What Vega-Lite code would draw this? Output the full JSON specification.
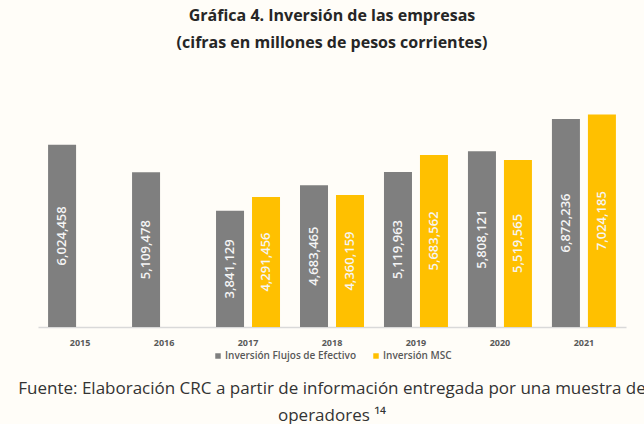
{
  "$schema": "https://vega.github.io/schema/vega-lite/v6.json",
  "background": "#fffdf8",
  "padding": {"left": 18, "top": 8, "right": 0, "bottom": 0},
  "title": {
    "text": ["Fuente: Elaboración CRC a partir de información entregada por una muestra de", "operadores ¹⁴"],
    "orient": "bottom",
    "font": "Open Sans",
    "fontSize": 17,
    "fontWeight": "normal",
    "color": "#333333",
    "lineHeight": 27,
    "anchor": "middle",
    "offset": 20
  },
  "config": {
    "view": {"stroke": null},
    "font": "Open Sans",
    "legend": {"layout": {"bottom": {"anchor": "middle"}}}
  },
  "resolve": {"legend": {"color": "independent"}},
  "vconcat": [
    {
      "width": 588,
      "height": 227,
      "title": {
        "text": ["Gráfica 4. Inversión de las empresas", "(cifras en millones de pesos corrientes)"],
        "font": "Open Sans",
        "fontSize": 16,
        "fontWeight": "bold",
        "color": "#262626",
        "lineHeight": 27,
        "anchor": "middle",
        "offset": 49
      },
      "data": {
        "values": [
          {"anio": "2015", "serie": "Inversión Flujos de Efectivo", "valor": 6024458},
          {"anio": "2016", "serie": "Inversión Flujos de Efectivo", "valor": 5109478},
          {"anio": "2017", "serie": "Inversión Flujos de Efectivo", "valor": 3841129},
          {"anio": "2017", "serie": "Inversión MSC", "valor": 4291456},
          {"anio": "2018", "serie": "Inversión Flujos de Efectivo", "valor": 4683465},
          {"anio": "2018", "serie": "Inversión MSC", "valor": 4360159},
          {"anio": "2019", "serie": "Inversión Flujos de Efectivo", "valor": 5119963},
          {"anio": "2019", "serie": "Inversión MSC", "valor": 5683562},
          {"anio": "2020", "serie": "Inversión Flujos de Efectivo", "valor": 5808121},
          {"anio": "2020", "serie": "Inversión MSC", "valor": 5519565},
          {"anio": "2021", "serie": "Inversión Flujos de Efectivo", "valor": 6872236},
          {"anio": "2021", "serie": "Inversión MSC", "valor": 7024185}
        ]
      },
      "encoding": {
        "x": {
          "field": "anio",
          "type": "nominal",
          "scale": {"paddingInner": 0.238, "paddingOuter": 0.12},
          "axis": {
            "title": null,
            "labelAngle": 0,
            "labelFontSize": 9,
            "labelFontWeight": "bold",
            "labelColor": "#595959",
            "labelPadding": 11,
            "ticks": false,
            "domainColor": "#d9d9d9",
            "domainWidth": 1.5
          }
        },
        "xOffset": {
          "field": "serie",
          "type": "nominal",
          "sort": ["Inversión Flujos de Efectivo", "Inversión MSC"],
          "scale": {"paddingInner": 0.222, "paddingOuter": 0}
        }
      },
      "layer": [
        {
          "mark": {"type": "bar"},
          "encoding": {
            "y": {
              "field": "valor",
              "type": "quantitative",
              "scale": {"domain": [0, 7500000]},
              "axis": null
            },
            "color": {
              "field": "serie",
              "type": "nominal",
              "scale": {
                "domain": ["Inversión Flujos de Efectivo", "Inversión MSC"],
                "range": ["#7f7f7f", "#ffc000"]
              },
              "legend": {
                "title": null,
                "orient": "bottom",
                "direction": "horizontal",
                "symbolType": "square",
                "symbolSize": 30,
                "labelFontSize": 10,
                "labelFontWeight": 600,
                "labelColor": "#595959",
                "labelOffset": 2,
                "columnPadding": 14,
                "offset": 4
              }
            }
          }
        },
        {
          "mark": {
            "type": "text",
            "angle": 270,
            "align": "center",
            "baseline": "middle",
            "fontSize": 13,
            "fontWeight": 600,
            "color": "#f5f5f5"
          },
          "encoding": {
            "y": {
              "field": "valor",
              "type": "quantitative",
              "scale": {"domain": [0, 15000000]},
              "axis": null
            },
            "text": {"field": "valor", "type": "quantitative", "format": ",d"}
          }
        }
      ],
      "resolve": {"scale": {"y": "independent"}}
    }
  ]
}
